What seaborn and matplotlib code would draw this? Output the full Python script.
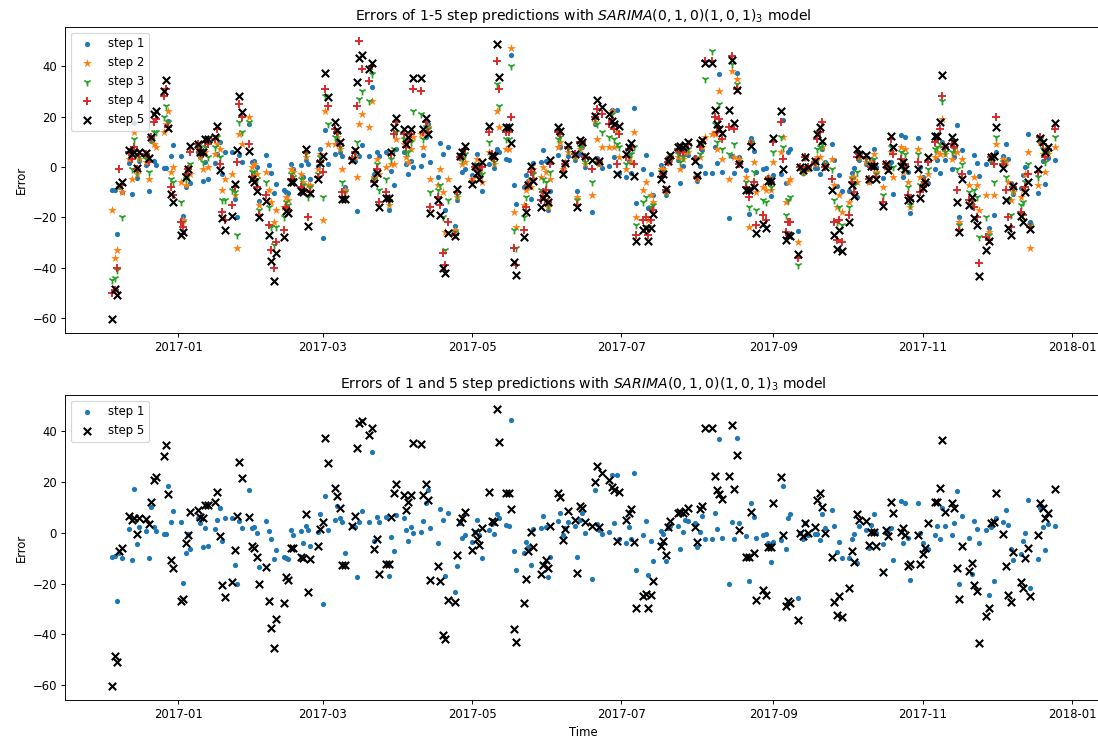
import numpy as np
import pandas as pd
import matplotlib
matplotlib.use("Agg")
import matplotlib.pyplot as plt
import matplotlib.dates as mdates
import seaborn as sns

start_date = "2016-12-05"

# one row per business week (Mon..Fri)
step1 = [
    -9.3, -9, -26.8, -8, -10,
    1.4, -10.7, 17.4, -4.4, 2.4,
    0.8, -9.7, 10.3, 2.5, 0.8,
    -0.5, -0.5, 18.4, 4.3, 8.6,
    4.3, -19.6, -7.8, -0.5, -6.4,
    5.8, 3.8, -5.6, 2, -5,
    1.4, 5.2, 9.7, -3, 5.8,
    5.8, -12.8, -20, 4.7, 1.8,
    16.9, 1.8, 2.2, -0.1, -13.6,
    4.7, 0.8, -2.4, -10.2, -6.8,
    -9.3, -9.9, -10.2, 1.3, -1,
    0.9, -4, 2.9, 1.3, -5,
    0.5, 7.3, -28.2, 14.5, 1.3,
    5.2, 10.7, 6, 4.4, -7.8,
    2.9, 2.4, -17.5, 4.3, 8.6,
    4.3, 31.9, -3, 6.1, 4.3,
    6.1, -17.1, -1.6, -7.3, 7.2,
    5.8, 1.3, -3, 2.4, 0,
    0.4, 4.7, 11.9, 16.9, 1.8,
    -4, 9.5, 5.2, -17.1, 7.7,
    -23.4, -13.2, 3.8, -2.1, -1,
    -3.4, 0.5, 5.2, -1, -9.7,
    1.2, 3.4, -0.5, 7.3, 5.8,
    3, 2.9, 44.6, -7.3, -14.8,
    -8.1, -3.4, -5.4, -12.8, 1.4,
    1.8, 6.8, 2.4, -17.3, -9.4,
    4.7, 7.7, -0.8, 2, 4.3,
    2.9, -9.4, 5, 8, -0.1,
    -18, 16.9, 3.4, 1, -0.5,
    0.5, 22.7, 4, 22.7, -2.4,
    -3.9, 2.4, -2.4, 23.5, -14.5,
    -1, 4.7, -16.5, -3, -11.2,
    0.9, -0.5, -11.2, 2, 2.7,
    2.9, -6.3, 0.5, 5, 4.7,
    4, -5.4, 0.5, 6.7, -2.5,
    -2.5, 7.7, 1.4, 36.9, -2.1,
    -20.3, 4.3, -2.5, 37.4, 3.9,
    -1.4, -18.8, 11.6, 6.3, -2,
    -1, -0.5, -4, -11.6, -3.4,
    -2.7, 18.6, -6.3, 5.8, 7.3,
    -25.6, 0, -2.4, 3.8, -0.8,
    -0.5, -0.5, -2.7, 7.3, 2,
    9, 2.9, -7.6, -3.4, -9.7,
    -9.7, -2.5, -0.5, -11.9, 2.9,
    1, -6, 3, 7.3, -0.1,
    -4.4, -0.1, 1, 2.1, -10.6,
    12.5, -4.1, 11.9, -2.1, -18.4,
    11.6, 0, -4.1, -6.3, -6.4,
    -0.7, 2.9, -2.5, 9.7, 2.9,
    -1, 4, 16.5, -20, 6.8,
    -2.1, -16.1, 4.7, 1.4, -3.8,
    1.2, -24.3, 2.5, -19.1, 5.8,
    4.2, 9, 3.1, -6.3, -10.8,
    -8.4, -3.1, -0.1, 12.9, -21.7,
    -10.2, 9.7, 2.5, -6.9, 3.4,
    2.9,
]

step2 = [
    -17, -36, -33, -8, -10,
    3, -5, 14, -3, 3,
    2, -5, 11, 9, 8,
    14, 17, 22, -2, 0,
    -6, -21, -7, 0, -3,
    7, 4, -1, 6, 0,
    5, 9, 7, -9, -5,
    -3, -11, -32, 13, 9,
    20, 0, 1, -3, -15,
    -2, -9, -14, -22, -17,
    -16, -12, -13, -1, -2,
    -3, -6, 4, -7, -7,
    -1, 5, -21, 22, 9,
    9, 12, 7, -1, -9,
    3, 4, -4, 17, 21,
    16, 26, -4, 3, -3,
    0, -15, 1, 1, 11,
    9, 4, 2, 7, 12,
    13, 8, 14, 16, -5,
    -7, -1, -10, -26, -5,
    -25, -12, 4, 1, 2,
    -5, 0, 3, -2, -6,
    6, 4, 1, 22, 16,
    7, 7, 47, -18, -24,
    -15, -9, -6, -8, -1,
    -4, 0, -2, -16, -5,
    8, 10, -1, 2, 6,
    4, -12, 7, 9, 1,
    -11, 18, 11, 1, 8,
    8, 22, 8, 14, 4,
    -1, 4, 2, 14, -20,
    -9, -6, -21, -11, -14,
    -1, -1, -10, 2, 3,
    4, -1, 3, 6, 6,
    3, -5, 4, 8, 12,
    13, 13, 7, 30, 3,
    -5, 38, 4, 35, 3,
    -4, -24, 10, 2, -10,
    -8, -9, -4, -9, 2,
    6, 12, -14, -6, -5,
    -30, 0, -2, 4, -1,
    1, 4, 4, 8, 1,
    3, -7, -16, -11, -18,
    -14, -4, -4, -6, 4,
    2, -6, 2, 5, -2,
    -8, 0, 0, 6, -4,
    8, -2, 7, -6, -16,
    7, -4, -6, -6, -3,
    4, 6, 5, 19, 5,
    3, 6, 6, -22, 3,
    -7, -15, -4, -7, -17,
    -11, -26, 3, -11, 9,
    3, 2, -6, -13, -10,
    -12, -9, -3, 6, -32,
    -7, 10, 5, -2, 5,
    8,
]

step3 = [
    -45, -44, -41, -7, -20,
    5, -1, 11, -2, 4,
    3, -2, 11, 14, 14,
    20, 24, 18, -5, -6,
    -14, -22, -5, -1, 1,
    8, 5, 2, 8, 4,
    8, 12, 4, -13, -13,
    -9, -10, -27, 18, 14,
    18, -2, -2, -5, -17,
    -6, -16, -24, -31, -24,
    -20, -14, -15, -3, -4,
    -5, -7, 5, -12, -8,
    -3, 4, -12, 28, 17,
    12, 13, 8, -6, -10,
    3, 5, 10, 27, 30,
    26, 37, -5, 1, -9,
    -5, -14, 3, 7, 14,
    11, 6, 6, 10, 22,
    21, 11, 16, 15, -10,
    -9, -7, -20, -33, -13,
    -26, -11, 4, 3, 5,
    -6, 0, 1, -3, -3,
    10, 4, 2, 33, 24,
    11, 11, 40, -25, -32,
    -20, -12, -7, -5, -3,
    -9, -5, -6, -15, -2,
    11, 12, -2, 2, 7,
    4, -13, 8, 9, 2,
    -6, 19, 17, 2, 14,
    12, 21, 11, 9, 8,
    1, 5, 5, 8, -23,
    -14, -12, -24, -16, -15,
    -2, -2, -10, 2, 4,
    5, 2, 4, 7, 7,
    3, -4, 5, 9, 35,
    46, 17, 10, 25, 7,
    5, 41, 9, 33, 2,
    -6, -16, 10, -2, -17,
    -13, -14, -5, -8, 6,
    12, 8, -19, -13, -12,
    -39, 0, -2, 4, 0,
    2, 7, 8, 9, 1,
    -1, -13, -22, -16, -23,
    -16, -5, -7, -2, 4,
    3, -5, 1, 3, -3,
    -11, 1, 0, 8, 0,
    6, -1, 5, -8, -15,
    5, -7, -7, -6, -1,
    7, 8, 9, 26, 6,
    6, 7, -1, -23, 1,
    -10, -14, -9, -12, -28,
    -20, -27, 3, -6, 12,
    2, -4, -13, -19, -9,
    -15, -14, -6, 1, -23,
    -4, 11, 7, 2, 6,
    12,
]

step4 = [
    -50, -49, -40, -1, -7,
    6, 3, 8, -1, 5,
    5, 2, 12, 18, 19,
    28, 31, 16, -8, -11,
    -22, -24, -3, -1, 6,
    9, 6, 5, 10, 9,
    11, 15, 1, -18, -21,
    -15, -8, 2, 25, 20,
    9, -4, -5, -8, -19,
    -11, -23, -33, -40, -30,
    -25, -16, -17, -5, -5,
    -8, -9, 6, -20, -10,
    -4, 2, -2, 31, 24,
    15, 14, 9, -10, -12,
    3, 6, 24, 50, 39,
    34, 40, -6, -1, -14,
    -10, -13, 5, 13, 18,
    13, 8, 10, 13, 31,
    30, 14, 18, 14, -16,
    -12, -15, -34, -39, -22,
    -27, -10, 4, 5, 7,
    -6, 0, -1, -4, 0,
    14, 5, 3, 42, 31,
    14, 14, 20, -32, -39,
    -25, -16, -7, -2, -5,
    -13, -10, -9, -14, 1,
    14, 13, -2, 1, 8,
    5, -15, 10, 10, 4,
    -1, 20, 23, 2, 21,
    17, 19, 15, 1, 13,
    4, 7, 8, 1, -27,
    -21, -20, -27, -21, -17,
    -4, -3, -9, 2, 4,
    7, 6, 6, 8, 9,
    3, -4, 8, 10, 42,
    42, 20, 14, 19, 11,
    16, 44, 15, 31, 1,
    -8, -12, 9, -6, -23,
    -19, -21, -5, -6, 10,
    18, 3, -26, -22, -22,
    -36, 0, -1, 4, 0,
    2, 11, 14, 18, 0,
    -5, -22, -29, -21, -30,
    -19, -6, -10, 4, 5,
    4, -5, 0, 1, -4,
    -14, 1, -1, 11, 5,
    3, 1, 1, -11, -13,
    2, -10, -8, -6, 2,
    10, 11, 15, 28, 8,
    9, 8, -9, -25, -3,
    -13, -13, -16, -20, -38,
    -28, -29, 4, 1, 20,
    1, -9, -20, -24, -8,
    -18, -19, -8, -3, -24,
    -2, 12, 9, 4, 7,
    15,
]

step5 = [
    -60.4, -48.5, -50.8, -7, -6,
    6.8, 5.2, 5.9, -0.5, 5.9,
    5.4, 3.4, 12, 20.8, 22,
    30.3, 34.5, 15.3, -10.6, -13.9,
    -26.9, -25.9, -4, -0.8, 8.1,
    9, 6.1, 5.8, 11, 11,
    12, 16.2, -1.4, -20.4, -25.2,
    -19.5, -6.8, 6.8, 28, 21.8,
    6.3, -5, -6, -9.5, -20,
    -13.6, -26.9, -37.4, -45.2, -34.1,
    -27.8, -17.4, -18.4, -5.8, -5.8,
    -9.5, -9.9, 7.3, -23.4, -10.3,
    -5, 1.4, 4.2, 37.4, 27.6,
    17.9, 14.5, 9.7, -12.8, -12.8,
    2.9, 6.8, 33.5, 43.4, 44.3,
    38.7, 41.4, -6.4, -2.5, -16.1,
    -12.3, -12.3, 6.1, 15.8, 19.3,
    14.9, 9, 12, 14.9, 35.4,
    35.2, 14.9, 19.3, 12.9, -18.4,
    -13.2, -19.1, -40.3, -42, -26.3,
    -27.3, -8.9, 4.2, 5.8, 8.1,
    -6.7, 0.3, -2.4, -4.7, 1.8,
    16.2, 4.8, 4.4, 48.9, 35.8,
    15.9, 15.9, 9.4, -37.7, -42.9,
    -27.8, -18, -7.3, 0.3, -5.4,
    -16.1, -12.5, -10.7, -13.9, 2.9,
    15.9, 14.2, -2.7, 1.4, 8.6,
    5.1, -15.9, 10.6, 9.9, 4.4,
    2.9, 20.1, 26.4, 2.2, 23.8,
    20.8, 18.2, 16.9, -3, 16.2,
    5.1, 7.7, 9.4, -3.7, -29.5,
    -25, -24.1, -29.5, -24.3, -18.8,
    -5, -3, -8.8, 2.5, 4.7,
    7.7, 8.4, 7.7, 8.6, 9.7,
    2.5, -3.4, 9.3, 10.6, 41.3,
    41.3, 22.4, 16.9, 15.2, 13.3,
    22.5, 42.6, 17.5, 30.6, 1.2,
    -9.3, -9.3, 8.4, -8, -26.3,
    -22.6, -24.3, -5.4, -5.4, 11.6,
    22.1, -0.8, -28.9, -26.9, -27.6,
    -34.5, -0.1, -1.4, 3.8, -0.1,
    2.5, 12.9, 15.9, 10.3, -0.1,
    -9.3, -27.2, -32.4, -25, -33.2,
    -21.7, -7.3, -11.5, 7.3, 5,
    4.7, -4.7, 0.3, 0.3, -5,
    -15.6, 1.2, -1.4, 12.3, 7.7,
    0.5, 1.8, -0.8, -13.2, -12.3,
    -0.8, -12.3, -8.4, -6, 3.8,
    12.3, 12.3, 17.9, 36.6, 8.4,
    11.9, 9.7, -13.9, -25.9, -5,
    -15.2, -11.9, -20.4, -23, -43.3,
    -32.8, -29.5, 3.8, 4.4, 15.9,
    -0.5, -13.2, -24.3, -27.2, -7.7,
    -19.5, -21.7, -9.9, -6, -24.7,
    -0.8, 11.6, 9.7, 6, 7.7,
    17.3,
]

series_names = ["step 1", "step 2", "step 3", "step 4", "step 5"]
series_values = [step1, step2, step3, step4, step5]
n = min(len(s) for s in series_values)
dates = pd.bdate_range(start_date, periods=n)

df = pd.DataFrame({"Time": dates})
for name, vals in zip(series_names, series_values):
    df[name] = vals[:n]

styles = {
    "step 1": dict(marker="o", color="#1f77b4", s=20, linewidth=0),
    "step 2": dict(marker="*", color="#ff7f0e", s=60, linewidth=0),
    "step 3": dict(marker="1", color="#2ca02c", s=45, linewidth=1.5),
    "step 4": dict(marker="+", color="#d62728", s=45, linewidth=1.6),
    "step 5": dict(marker="x", color="black", s=40, linewidth=1.8),
}

W, H, DPI = 1098, 740, 84
fig = plt.figure(figsize=(W / DPI, H / DPI), dpi=DPI)
left = 65 / W
width = (1102 - 65) / W
ax1 = fig.add_axes([left, 1 - 333 / H, width, (333 - 27) / H])
ax2 = fig.add_axes([left, 1 - 700 / H, width, (700 - 395) / H])

title_model = r"$SARIMA(0,1,0)(1,0,1)_3$"

for name in series_names:
    sns.scatterplot(data=df, x="Time", y=name, ax=ax1, label=name, **styles[name])
for name in ["step 1", "step 5"]:
    sns.scatterplot(data=df, x="Time", y=name, ax=ax2, label=name, **styles[name])

ax1.set_title("Errors of 1-5 step predictions with " + title_model + " model", fontsize=12)
ax2.set_title("Errors of 1 and 5 step predictions with " + title_model + " model", fontsize=12)

for ax in (ax1, ax2):
    ax.set_ylabel("Error")
    ax.set_yticks([-60, -40, -20, 0, 20, 40])
    ax.xaxis.set_major_locator(mdates.MonthLocator(bymonth=[1, 3, 5, 7, 9, 11]))
    ax.xaxis.set_major_formatter(mdates.DateFormatter("%Y-%m"))
    ax.legend(loc="upper left")
ax1.set_xlabel("")
ax2.set_xlabel("Time")

fig.savefig("out.png", dpi=DPI)
